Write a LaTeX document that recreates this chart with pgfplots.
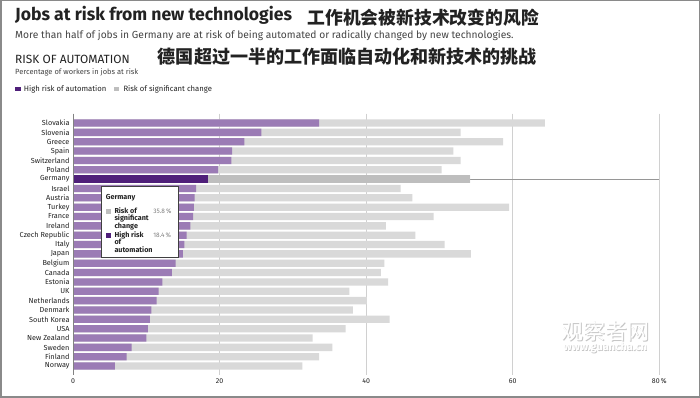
\documentclass[border=0pt]{standalone}
\usepackage{pgfplots}
\pgfplotsset{compat=1.18}
\usepackage{pgfplotstable}
\usepackage{fontspec}
\setmainfont{Fira Sans}
\newfontfamily\cjk{Noto Sans CJK SC}
\usetikzlibrary{shadows}

\definecolor{purpL}{HTML}{9B7BB5}
\definecolor{purpD}{HTML}{4F1F7A}
\definecolor{grayL}{HTML}{D9D9D9}
\definecolor{grayD}{HTML}{BEBEBE}
\definecolor{gridc}{HTML}{D0D0D0}
\definecolor{txt}{HTML}{222222}
\definecolor{subt}{HTML}{444444}
\definecolor{frame}{HTML}{8A8A8A}
\definecolor{hline}{HTML}{969696}
\definecolor{zline}{HTML}{828282}

\pgfplotstableread{
idx high change
0  33.6 30.8
1  25.7 27.2
2  23.4 35.3
3  21.7 30.2
4  21.6 31.3
5  19.8 30.5
6  18.4 35.8
7  16.8 27.9
8  16.6 29.7
9  16.5 43.0
10 16.4 32.8
11 16.0 26.7
12 15.5 31.2
13 15.2 35.5
14 15.0 39.3
15 14.0 28.5
16 13.5 28.5
17 12.2 30.8
18 11.7 26.0
19 11.4 28.7
20 10.7 27.5
21 10.5 32.7
22 10.2 27.0
23 10.0 22.7
24 8.0  27.4
25 7.3  26.3
26 5.7  25.6
}\datatable

\begin{document}
\begin{tikzpicture}[x=1pt,y=1pt]
\useasboundingbox (0,0) rectangle (700,398);
\fill[white] (0,0) rectangle (700,398);

% titles
\node[anchor=base west, inner sep=0, text=txt, font=\fontsize{17.6}{20}\selectfont\bfseries] at (15,377.3) {Jobs at risk from new technologies};
\node[anchor=west, inner sep=0, text=txt, font=\cjk\fontsize{17.8}{20}\selectfont\bfseries] at (307.3,380.5) {工作机会被新技术改变的风险};
\node[anchor=base west, inner sep=0, text=subt, font=\fontsize{10.25}{11}\selectfont] at (15,359.7) {More than half of jobs in Germany are at risk of being automated or radically changed by new technologies.};
\node[anchor=base west, inner sep=0, text=txt, font=\fontsize{11.9}{13}\selectfont] at (15,334) {RISK OF AUTOMATION};
\node[anchor=west, inner sep=0, text=txt, font=\cjk\fontsize{18.05}{20}\selectfont\bfseries] at (157.7,341) {德国超过一半的工作面临自动化和新技术的挑战};
\node[anchor=base west, inner sep=0, text=subt, font=\fontsize{7.5}{8}\selectfont] at (15,323) {Percentage of workers in jobs at risk};
% legend
\fill[purpD] (15.3,306.7) rectangle (20.7,311.3);
\node[anchor=base west, inner sep=0, text=txt, font=\fontsize{7.7}{8}\selectfont] at (23.7,306.7) {High risk of automation};
\fill[grayD] (114.3,306.7) rectangle (119,311.3);
\node[anchor=base west, inner sep=0, text=txt, font=\fontsize{7.7}{8}\selectfont] at (123.3,306.7) {Risk of significant change};

\begin{axis}[
  at={(73pt,22.6pt)}, anchor=south west,
  scale only axis, width=586.3pt, height=261.7pt,
  xmin=0, xmax=80, ymin=-1, ymax=27, y dir=reverse,
  axis line style={draw=none}, major tick length=0pt,
  xmajorgrids, grid style={gridc, line width=0.8pt},
  xtick={0,20,40,60,80}, xticklabels={0,20,40,60,80\,\%},
  ytick={0,...,26},
  yticklabels={Slovakia,Slovenia,Greece,Spain,Switzerland,Poland,Germany,Israel,Austria,Turkey,France,Ireland,Czech Republic,Italy,Japan,Belgium,Canada,Estonia,UK,Netherlands,Denmark,South Korea,USA,New Zealand,Sweden,Finland,Norway},
  yticklabel style={font=\fontsize{7.3}{8}\selectfont, text=txt},
  xticklabel style={font=\fontsize{7}{8}\selectfont, text=txt},
  clip=false,
]
\addplot[draw=hline, line width=0.7pt] coordinates {(0,6) (80,6)};
\addplot[xbar, bar shift=0pt, bar width=7.3pt, fill=grayL, draw=none] table[x expr=\thisrow{high}+\thisrow{change}, y=idx] {\datatable};
\addplot[xbar, bar shift=0pt, bar width=7.3pt, fill=purpL, draw=none] table[x=high, y=idx] {\datatable};
\addplot[xbar, bar shift=0pt, bar width=7.3pt, fill=grayD, draw=none] coordinates {(54.2,6)};
\addplot[xbar, bar shift=0pt, bar width=7.3pt, fill=purpD, draw=none] coordinates {(18.4,6)};
\draw[zline, line width=0.8pt] (axis cs:0,-1) -- (axis cs:0,27);
\end{axis}

% tooltip
\draw[fill=white, draw=black!75, line width=0.6pt, drop shadow={opacity=0.25, shadow xshift=1pt, shadow yshift=-1pt}] (101,211.3) rectangle (178.3,140.7);
\begin{scope}[every node/.style={anchor=base west, inner sep=0, text=txt, font=\fontsize{7.2}{8}\selectfont\bfseries}]
\node at (105.7,198) {Germany};
\fill[grayD] (106,183.7) rectangle (111,188.7);
\node at (114.3,184.7) {Risk of};
\node at (114.3,177.2) {significant};
\node at (114.3,169.7) {change};
\fill[purpD] (106,160) rectangle (111,165);
\node at (114.3,160.7) {High risk};
\node at (114.3,153.2) {of};
\node at (114.3,145.7) {automation};
\node[font=\fontsize{6.5}{7.5}\selectfont, text=gray] at (153.2,184.7) {35.8\,\%};
\node[font=\fontsize{6.5}{7.5}\selectfont, text=gray] at (153.2,160.7) {18.4\,\%};
\end{scope}

% watermark
\node[text=gray!45, font=\cjk\fontsize{22}{24}\selectfont] at (606,66) {观察者网};
\node[text=white, font=\cjk\fontsize{22}{24}\selectfont] at (605.2,66.8) {观察者网};
\node[text=gray!45, font=\fontsize{11}{12}\selectfont\bfseries] at (606,49.5) {www.guancha.cn};
\node[text=white, font=\fontsize{11}{12}\selectfont\bfseries] at (605.4,50.1) {www.guancha.cn};

% frame
\draw[frame, line width=1.5pt] (0.75,0.75) rectangle (699.25,397.25);
\end{tikzpicture}
\end{document}
